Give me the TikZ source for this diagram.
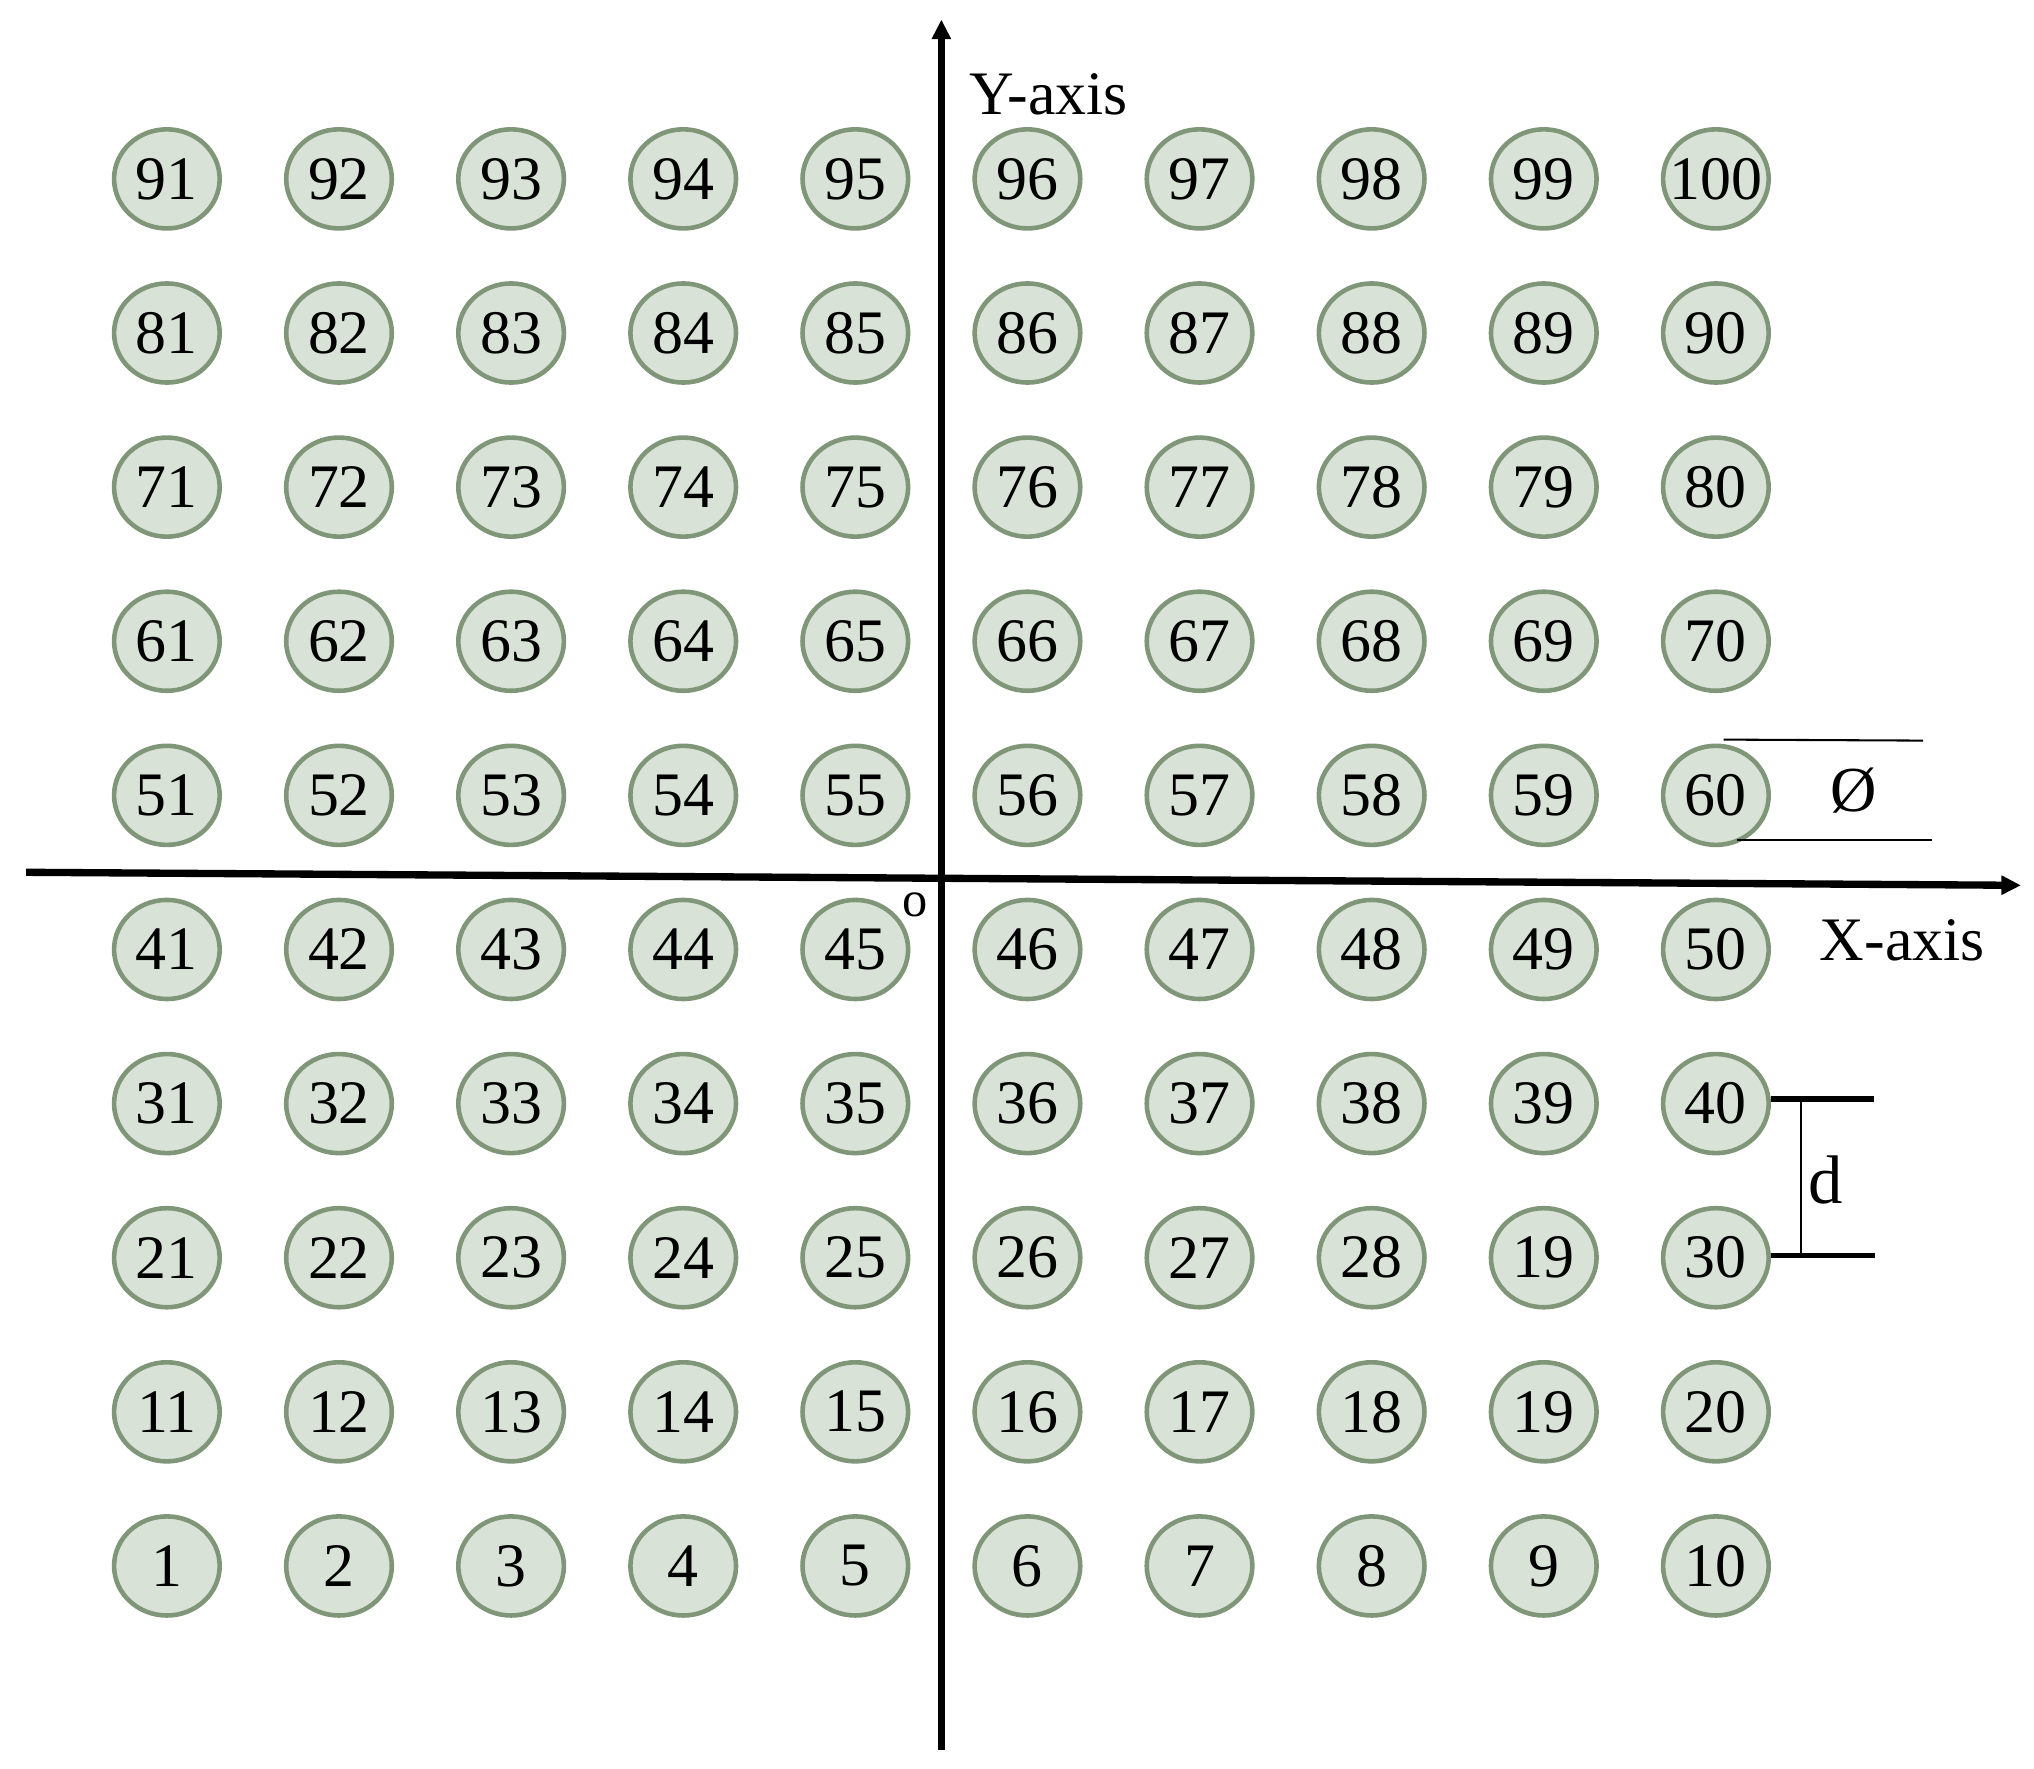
\documentclass[tikz,border=0pt]{standalone}
\usepackage{fontspec}
\setmainfont{Liberation Serif}
\usetikzlibrary{shapes.geometric, arrows.meta}

\definecolor{holefill}{RGB}{217,226,215}
\definecolor{holeline}{RGB}{128,150,120}

\begin{document}
\begin{tikzpicture}
        [hole/.style={draw=holeline,fill=holefill,shape=ellipse,line width=1pt,inner sep=0,minimum width=0.81cm,minimum height=0.76cm,font=\fontsize{13.5}{14}\selectfont},
         axis/.style={line width=1.6pt,-{Triangle[length=0.15cm,width=0.14cm]}},
         dimthin/.style={line width=0.45pt},
         dimthick/.style={line width=1.25pt},
         txt/.style={inner sep=0,font=\fontsize{13.5}{14}\selectfont}]

        \useasboundingbox (-7.22,-6.84) rectangle (8.38,6.72);

        % holes, numbered row by row from the bottom left
        \foreach \r in {0,...,9}
          \foreach \c in {1,...,10} {
            \pgfmathtruncatemacro{\n}{10*\r+\c}
            \ifnum\n=100
              \node[hole,inner xsep=-2pt] (c\n) at ({-5.94+1.32*(\c-1)}, {-5.29+1.182*\r}) {\n};
            \else
              \node[hole] (c\n) at ({-5.94+1.32*(\c-1)}, {-5.29+1.182*\r}) {\ifnum\n=29 19\else\n\fi};
            \fi
          }

        % axes
        \coordinate (O) at (0,0);
        \coordinate (xl) at (-7.02,0.03);
        \coordinate (xr) at (8.28,-0.07);
        \coordinate (yb) at (0,-6.70);
        \coordinate (yt) at (0,6.57);
        \draw[axis] (xl) -- (xr);
        \draw[axis] (yb) -- (yt);
        \node[txt,anchor=base west] (ylab) at (0.21,5.84) {Y-axis};
        \node[txt,anchor=base west] (xlab) at (6.73,-0.65) {X-axis};
        \node[txt,font=\fontsize{11}{12}\selectfont] (olab) at (-0.20,-0.22) {o};

        % diameter
        \coordinate (phit) at (7.53,1.04);
        \coordinate (phib) at (7.60,0.28);
        \draw[dimthin] (c60.north -| 6.00,0) ++(0,0.03) -- (phit);
        \draw[dimthin] (6.10,0.28) -- (phib);
        \node[txt,font=\fontsize{14}{15}\selectfont] (phi) at (7.00,0.66) {Ø};

        % spacing
        \coordinate (dt) at (7.15,-1.71);
        \coordinate (db) at (7.16,-2.91);
        \draw[dimthick] (c40.east |- dt) -- (dt);
        \draw[dimthick] (c30.east |- db) -- (db);
        \draw[dimthin] (6.59,-1.71) -- (6.59,-2.91);
        \node[txt,font=\fontsize{15}{16}\selectfont] (dlab) at (6.78,-2.33) {d};

      \end{tikzpicture}
\end{document}
